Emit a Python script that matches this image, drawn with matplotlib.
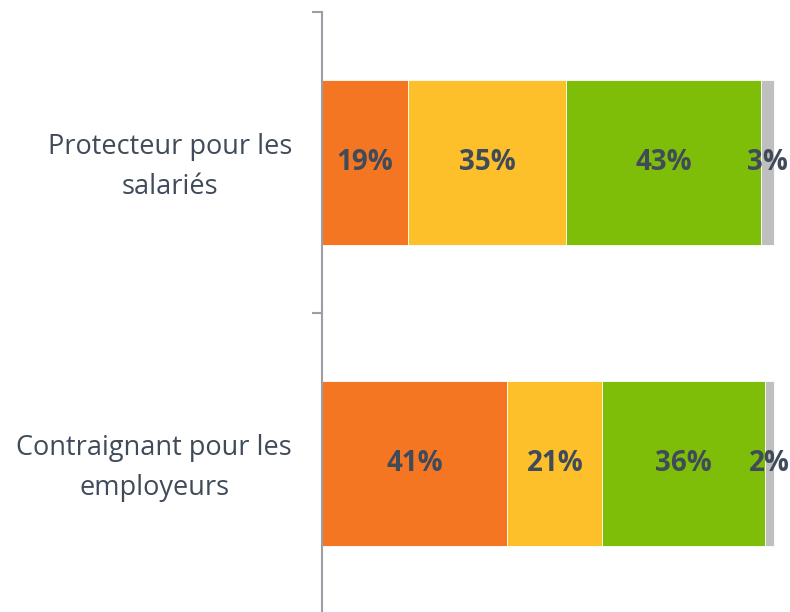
import matplotlib
matplotlib.use("Agg")
import matplotlib.pyplot as plt
import numpy as np

categories = ["Protecteur pour les\nsalariés", "Contraignant pour les\nemployeurs"]
seg1 = [19, 41]
seg2 = [35, 21]
seg3 = [43, 36]
seg4 = [3, 2]

COLORS = ["#F47623", "#FEC02A", "#7FBE08", "#BFBFBF"]
TXT = "#404B5A"
AXE = "#9A9FA5"

plt.rcParams["font.family"] = ["Open Sans", "DejaVu Sans"]

fig = plt.figure(figsize=(7.9, 6.12), dpi=100)
ax = fig.add_axes([322 / 790, 1 - 614 / 612, 1 - 322 / 790, 602 / 612])

y = np.arange(len(categories))
left = np.zeros(len(categories))
for vals, col in zip([seg1, seg2, seg3, seg4], COLORS):
    vals = np.array(vals, dtype=float)
    ax.barh(y, vals, left=left, height=0.55, color=col, edgecolor="white",
            linewidth=0.6, zorder=2)
    for yi, l, v in zip(y, left, vals):
        ax.text(l + v / 2, yi, f"{v:.0f}%", ha="center", va="center",
                fontsize=20, fontweight="bold", color=TXT, zorder=3)
    left += vals

ax.set_xlim(0, 103.5)
ax.set_ylim(1.5, -0.5)

# libelles un poil au-dessus du centre des barres, comme dans l'original
ax.set_yticks(y - 0.016)
labels = ax.set_yticklabels(categories, fontsize=19.5, color=TXT,
                            linespacing=1.55)
for lb in labels:
    lb.set_multialignment("center")
ax.tick_params(axis="y", which="major", length=0, pad=21.5)
ax.set_yticks([-0.5, 0.5, 1.5], minor=True)
ax.tick_params(axis="y", which="minor", length=7.5, width=1.5, color=AXE)

ax.set_xticks([])
for s in ["top", "right", "bottom"]:
    ax.spines[s].set_visible(False)
ax.spines["left"].set_color(AXE)
ax.spines["left"].set_linewidth(1.5)

fig.savefig("out.png", dpi=100)
